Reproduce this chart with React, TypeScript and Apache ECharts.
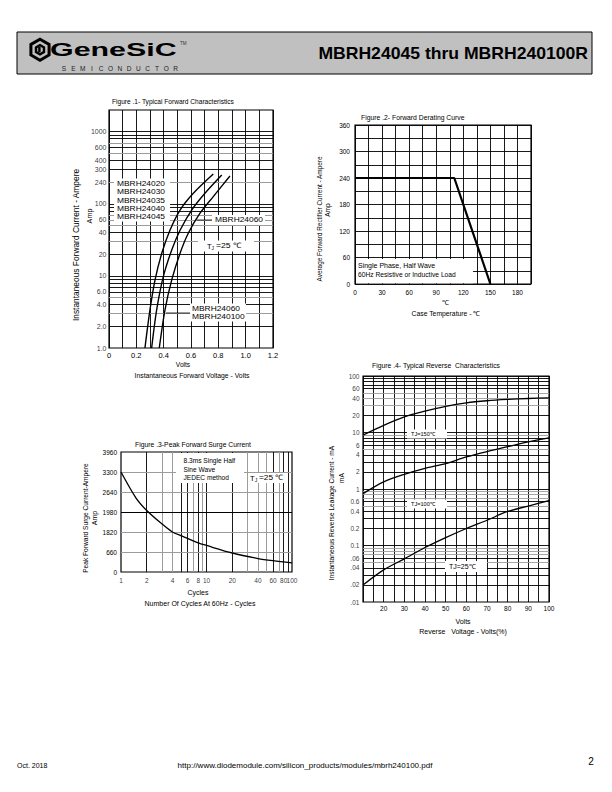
import React, { useEffect, useRef } from "react";
import * as echarts from "echarts";

const FONT = "'Liberation Sans', Arial, Helvetica, sans-serif";

// ---------- Figure 1: Typical Forward Characteristics ----------
const fig1CurveAVolts = [0.263, 0.3, 0.337, 0.386, 0.446, 0.52, 0.617, 0.763];
const fig1CurveAAmps = [1.0, 3.4, 8.8, 20.6, 43, 82, 140, 259];
const fig1CurveBVolts = [0.312, 0.349, 0.397, 0.459, 0.52, 0.605, 0.702, 0.825];
const fig1CurveBAmps = [1.0, 3.4, 9.7, 22.9, 43, 82, 140, 251];
const fig1CurveCVolts = [0.368, 0.41, 0.459, 0.52, 0.58, 0.666, 0.763, 0.885];
const fig1CurveCAmps = [1.0, 3.4, 8.8, 20.6, 39, 74, 126, 243];
const fig1YTickValues = [1, 2, 4, 6, 10, 20, 40, 60, 100, 200, 300, 400, 600, 1000];
const fig1YTickLabels = ["1.0", "2.0", "4.0", "6.0", "10", "20", "40", "60", "100", "240", "300", "400", "600", "1000"];
const fig1DarkLines = [2, 4, 6, 7, 8, 9, 10, 20, 40, 80, 90, 100, 300, 400, 600, 800, 900, 1000];
const fig1GrayLines = [3, 5, 30, 50, 60, 70, 200, 500, 700];
const fig1DeviceLabelsA = ["MBRH24020", "MBRH24030", "MBRH24035", "MBRH24040", "MBRH24045"];
const fig1DeviceLabelsC = ["MBRH24060", "MBRH240100"];

// ---------- Figure 2: Forward Derating Curve ----------
const fig2Temps = [0, 110, 150];
const fig2Amps = [240, 240, 0];

// ---------- Figure 3: Peak Forward Surge Current ----------
const fig3Cycles = [1, 1.5, 2, 3, 4, 5, 6, 8, 10, 20, 40, 60, 100];
const fig3Amps = [3300, 2440, 2030, 1590, 1320, 1200, 1110, 960, 875, 627, 445, 372, 300];
const fig3XTickValues = [1, 2, 4, 6, 8, 10, 20, 40, 60, 80, 100];
const fig3XTickLabels = ["1", "2", "4", "6", "8", "10", "20", "40", "60", "80", "100"];
const fig3YTickLabels = ["0", "660", "1820", "1980", "2640", "3300", "3960"];
const fig3DarkVLines = [2, 5, 6, 8, 10, 20, 60, 80, 90];
const fig3GrayVLines = [3, 4, 7, 9, 30, 40, 50, 70];
const fig3DarkHLines = [1980];
const fig3GrayHLines = [660, 1320, 2640, 3300];

// ---------- Figure 4: Typical Reverse Characteristics ----------
const fig4Volts = [10, 20, 30, 40, 50, 60, 70, 80, 90, 100];
const fig4Tj150 = [9.0, 13.4, 18.9, 23.8, 29, 33.5, 36.5, 38.5, 40, 41];
const fig4Tj100 = [0.83, 1.34, 1.82, 2.32, 2.82, 3.7, 4.6, 5.6, 6.8, 8.0];
const fig4Tj25 = [0.02, 0.037, 0.058, 0.092, 0.138, 0.2, 0.28, 0.4, 0.5, 0.62];
const fig4YTickValues = [100, 60, 40, 20, 10, 6, 4, 2, 1, 0.6, 0.4, 0.2, 0.1, 0.06, 0.04, 0.02, 0.01];
const fig4YTickLabels = ["100", "60", "40", "20", "10", "6", "4", "2", "1", "0.6", "0.4", "0.2", "0.1", ".06", ".04", ".02", ".01"];
const fig4DarkLines = [0.02, 0.03, 0.04, 0.06, 0.1, 0.2, 0.3, 0.4, 0.6, 1, 2, 3, 4, 6, 7, 8, 10, 20, 60, 70, 80, 90, 100];
const fig4GrayLines = [0.05, 0.07, 0.08, 0.09, 0.5, 0.7, 0.8, 0.9, 5, 9, 30, 40, 50];

const zip = (xs: number[], ys: number[]) => xs.map((x, i) => [x, ys[i]]);

const hLines = (vals: number[], color: string, width: number) =>
  vals.map((v) => ({ yAxis: v, lineStyle: { color, width, type: "solid" } }));
const vLines = (vals: number[], color: string, width: number) =>
  vals.map((v) => ({ xAxis: v, lineStyle: { color, width, type: "solid" } }));

const markLineOf = (data: any[]) => ({
  silent: true,
  symbol: ["none", "none"],
  label: { show: false },
  animation: false,
  data,
});

function txt(x: number, y: number, text: string, size: number, opts: any = {}) {
  return {
    type: "text",
    x,
    y,
    z: 100,
    rotation: opts.rotation || 0,
    scaleX: opts.scaleX || 1,
    silent: true,
    style: {
      text,
      font: `${opts.bold ? "bold " : ""}${size}px ${opts.family || FONT}`,
      fill: opts.fill || "#000",
      textAlign: opts.align || "left",
      textVerticalAlign: "middle",
    },
  };
}

function box(x: number, y: number, w: number, h: number) {
  return { type: "rect", z: 90, silent: true, shape: { x, y, width: w, height: h }, style: { fill: "#fff" } };
}

function seg(x1: number, y1: number, x2: number, y2: number, w = 0.8) {
  return { type: "line", z: 95, silent: true, shape: { x1, y1, x2, y2 }, style: { stroke: "#000", lineWidth: w } };
}

function hex(cx: number, cy: number, r: number) {
  const pts: number[][] = [];
  for (let k = 0; k < 6; k++) {
    const a = ((-90 + 60 * k) * Math.PI) / 180;
    pts.push([cx + r * Math.cos(a), cy + r * Math.sin(a)]);
  }
  return pts;
}

function tickScatter(xIdx: number, yIdx: number, data: number[][], labels: string[], position: string, distance: number, size: number) {
  return {
    type: "scatter",
    xAxisIndex: xIdx,
    yAxisIndex: yIdx,
    data,
    symbolSize: 1,
    clip: false,
    silent: true,
    itemStyle: { color: "rgba(0,0,0,0)" },
    label: {
      show: true,
      position,
      distance,
      color: "#000",
      fontSize: size,
      fontFamily: FONT,
      formatter: (p: any) => labels[p.dataIndex],
    },
    emphasis: { disabled: true },
    z: 3,
  };
}

function curve(xIdx: number, yIdx: number, data: number[][], width: number, smooth: number | boolean) {
  return {
    type: "line",
    xAxisIndex: xIdx,
    yAxisIndex: yIdx,
    data,
    showSymbol: false,
    symbol: "none",
    smooth,
    silent: true,
    lineStyle: { color: "#000", width },
    z: 5,
  };
}

function buildOption(): any {
  const axisBase = {
    axisLine: { show: false },
    axisTick: { show: false },
  };
  const blackSplit = { show: true, lineStyle: { color: "#000", width: 0.9 } };
  const lblStyle = (size: number, margin: number) => ({ color: "#000", fontSize: size, fontFamily: FONT, margin });

  const grids = [
    { left: 109, top: 110, width: 164, height: 238 },
    { left: 355, top: 125, width: 176, height: 159 },
    { left: 121, top: 452, width: 171, height: 120 },
    { left: 363, top: 376, width: 186, height: 226 },
  ].map((g) => ({ ...g, show: true, borderColor: "#000", borderWidth: 1.2, backgroundColor: "transparent" }));

  const xAxis = [
    {
      gridIndex: 0, type: "value", min: 0, max: 1.2, interval: 0.1, ...axisBase,
      splitLine: blackSplit,
      axisLabel: {
        ...lblStyle(7.5, 3),
        formatter: (v: number) => {
          const t = Math.round(v * 10);
          if (t % 2 !== 0) return "";
          return t === 0 ? "0" : (t / 10).toFixed(1);
        },
      },
    },
    {
      gridIndex: 1, type: "value", min: 0, max: 195, interval: 15, ...axisBase,
      splitLine: blackSplit,
      axisLabel: {
        ...lblStyle(6.5, 5),
        showMaxLabel: false,
        formatter: (v: number) => (v % 30 === 0 && v <= 180 ? String(v) : ""),
      },
    },
    {
      gridIndex: 2, type: "log", logBase: 10, min: 1, max: 100, ...axisBase,
      splitLine: { show: false }, axisLabel: { show: false },
    },
    {
      gridIndex: 3, type: "value", min: 10, max: 100, interval: 5, ...axisBase,
      splitLine: blackSplit,
      axisLabel: {
        ...lblStyle(6.5, 3),
        formatter: (v: number) => (v % 10 === 0 && v >= 20 ? String(v) : ""),
      },
    },
  ];

  const yAxis = [
    {
      gridIndex: 0, type: "log", logBase: 10, min: 1, max: 2000, ...axisBase,
      splitLine: { show: false }, axisLabel: { show: false },
    },
    {
      gridIndex: 1, type: "value", min: 0, max: 360, interval: 30, ...axisBase,
      splitLine: blackSplit,
      axisLabel: { ...lblStyle(6.5, 5), formatter: (v: number) => (v % 60 === 0 ? String(v) : "") },
    },
    {
      gridIndex: 2, type: "value", min: 0, max: 3960, interval: 660, ...axisBase,
      splitLine: { show: false },
      axisLabel: { ...lblStyle(6.5, 4), formatter: (v: number) => fig3YTickLabels[Math.round(v / 660)] ?? "" },
    },
    {
      gridIndex: 3, type: "log", logBase: 10, min: 0.01, max: 100, ...axisBase,
      splitLine: { show: false }, axisLabel: { show: false },
    },
  ];

  const series: any[] = [
    // Figure 1
    {
      ...tickScatter(0, 0, fig1YTickValues.map((v) => [0, v]), fig1YTickLabels, "left", 2, 7),
      markLine: markLineOf([
        ...hLines(fig1GrayLines, "#9c9c9c", 1),
        ...hLines(fig1DarkLines, "#000", 0.9),
      ]),
    },
    curve(0, 0, zip(fig1CurveAVolts, fig1CurveAAmps), 1.4, 0.3),
    curve(0, 0, zip(fig1CurveBVolts, fig1CurveBAmps), 1.4, 0.3),
    curve(0, 0, zip(fig1CurveCVolts, fig1CurveCAmps), 1.4, 0.3),
    // Figure 2
    curve(1, 1, zip(fig2Temps, fig2Amps), 2.2, false),
    // Figure 3
    {
      ...tickScatter(2, 2, fig3XTickValues.map((v) => [v, 0]), fig3XTickLabels, "bottom", 4, 6.5),
      markLine: markLineOf([
        ...vLines(fig3GrayVLines, "#9c9c9c", 1),
        ...vLines(fig3DarkVLines, "#000", 0.9),
        ...hLines(fig3GrayHLines, "#9c9c9c", 1.2),
        ...hLines(fig3DarkHLines, "#000", 1),
      ]),
    },
    curve(2, 2, zip(fig3Cycles, fig3Amps), 1.3, 0.3),
    // Figure 4
    {
      ...tickScatter(3, 3, fig4YTickValues.map((v) => [10, v]), fig4YTickLabels, "left", 3, 6.5),
      markLine: markLineOf([
        ...hLines(fig4GrayLines, "#9c9c9c", 0.9),
        ...hLines(fig4DarkLines, "#000", 0.9),
      ]),
    },
    curve(3, 3, zip(fig4Volts, fig4Tj150), 1.3, 0.3),
    curve(3, 3, zip(fig4Volts, fig4Tj100), 1.3, 0.3),
    curve(3, 3, zip(fig4Volts, fig4Tj25), 1.3, 0.3),
  ];

  const graphic: any[] = [];
  // ----- header -----
  graphic.push({
    type: "rect", z: 80, silent: true,
    shape: { x: 17, y: 32, width: 575, height: 42 },
    style: { fill: "#c0c0c0", stroke: "#000", lineWidth: 1 },
  });
  graphic.push({ type: "polygon", z: 100, silent: true, shape: { points: hex(40, 49.7, 10.5) }, style: { fill: "none", stroke: "#000", lineWidth: 3 } });
  graphic.push({ type: "polygon", z: 100, silent: true, shape: { points: hex(40, 49.7, 6) }, style: { fill: "#000" } });
  graphic.push({ type: "polygon", z: 101, silent: true, shape: { points: hex(40, 49.7, 3.2) }, style: { fill: "#c0c0c0" } });
  graphic.push({ type: "rect", z: 102, silent: true, shape: { x: 38.2, y: 47, width: 2.4, height: 5.4 }, style: { fill: "#000" } });
  graphic.push(txt(50, 49.5, "GeneSiC", 19, { bold: true, scaleX: 1.6 }));
  graphic.push(txt(180, 43.5, "TM", 4.5, { fill: "#333" }));
  "SEMICONDUCTOR".split("").forEach((ch, i) => {
    graphic.push(txt(64 + i * 9.3, 68.5, ch, 6.5, { align: "center", fill: "#222" }));
  });
  graphic.push(txt(588, 53.5, "MBRH24045 thru MBRH240100R", 16, { bold: true, align: "right", scaleX: 1.1 }));

  // ----- Figure 1 texts -----
  graphic.push(txt(112, 101, "Figure .1- Typical Forward Characteristics", 6.6));
  graphic.push(txt(76, 245, "Instantaneous Forward Current - Ampere", 8.4, { rotation: Math.PI / 2, align: "center" }));
  graphic.push(txt(89, 216, "Amp", 7.2, { rotation: Math.PI / 2, align: "center" }));
  graphic.push(txt(183, 364, "Volts", 6.6, { align: "center" }));
  graphic.push(txt(192, 375, "Instantaneous Forward Voltage - Volts", 6.8, { align: "center" }));
  graphic.push(box(114, 178.5, 56, 43));
  [183.3, 191.7, 201, 208.3, 216.7].forEach((y, i) => {
    graphic.push(txt(117, y, fig1DeviceLabelsA[i], 7, { scaleX: 1.2 }));
  });
  graphic.push(box(212, 215, 53, 10));
  graphic.push(seg(197, 220, 212, 220));
  graphic.push(txt(215, 220, "MBRH24060", 7, { scaleX: 1.2 }));
  graphic.push(box(190, 303.5, 56, 18));
  graphic.push(seg(166, 313, 190, 313));
  graphic.push(txt(192, 308.5, fig1DeviceLabelsC[0], 7, { scaleX: 1.2 }));
  graphic.push(txt(192, 317, fig1DeviceLabelsC[1], 7, { scaleX: 1.2 }));
  graphic.push(box(198, 240.5, 56, 11));
  graphic.push(txt(207, 246, "T", 7.5));
  graphic.push(txt(211.6, 248.5, "J", 4.8));
  graphic.push(txt(216, 246, "=25 \u2103", 7.5, { scaleX: 1.15 }));

  // ----- Figure 2 texts -----
  graphic.push(txt(361, 117.3, "Figure .2- Forward Derating Curve", 6.8));
  graphic.push(txt(319, 219, "Average Forward Rectifier Current - Ampere", 6.4, { rotation: Math.PI / 2, align: "center" }));
  graphic.push(txt(327.5, 210, "Amp", 6.6, { rotation: Math.PI / 2, align: "center" }));
  graphic.push(txt(445, 302.5, "\u2103", 7, { align: "center" }));
  graphic.push(txt(446, 313.5, "Case Temperature - \u2103", 6.8, { align: "center" }));
  graphic.push(box(356, 259, 117, 24.3));
  graphic.push(txt(358, 265.7, "Single Phase, Half Wave", 7));
  graphic.push(txt(358, 274.3, "60Hz Resistive or Inductive Load", 6.7));

  // ----- Figure 3 texts -----
  graphic.push(txt(193, 444, "Figure .3-Peak Forward Surge Current", 6.8, { align: "center" }));
  graphic.push(txt(85, 518, "Peak Forward Surge Current-Ampere", 6.6, { rotation: Math.PI / 2, align: "center" }));
  graphic.push(txt(94.5, 518, "Amp", 7, { rotation: Math.PI / 2, align: "center" }));
  graphic.push(txt(198, 592.5, "Cycles", 7, { align: "center" }));
  graphic.push(txt(200, 603.5, "Number Of Cycles At 60Hz - Cycles", 7, { align: "center" }));
  graphic.push(box(176, 453, 68, 30));
  graphic.push(txt(183.5, 460, "8.3ms Single Half", 6.6));
  graphic.push(txt(183.5, 469, "Sine Wave", 6.6));
  graphic.push(txt(183.5, 477.8, "JEDEC method", 6.6));
  graphic.push(box(248, 473, 37, 10));
  graphic.push(txt(250, 478, "T", 7.5));
  graphic.push(txt(254.8, 479.5, "J", 5));
  graphic.push(txt(259, 478, "=25 \u2103", 7.5, { scaleX: 1.1 }));

  // ----- Figure 4 texts -----
  graphic.push(txt(436, 365, "Figure .4- Typical Reverse  Characteristics", 6.8, { align: "center" }));
  graphic.push(txt(331, 513, "Instantaneous Reverse Leakage Current - mA", 6.6, { rotation: Math.PI / 2, align: "center" }));
  graphic.push(txt(341, 478, "mA", 6.6, { rotation: Math.PI / 2, align: "center" }));
  graphic.push(txt(463, 621.7, "Volts", 7, { align: "center" }));
  graphic.push(txt(463, 631, "Reverse   Voltage - Volts(%)", 7, { align: "center" }));
  graphic.push(box(407, 429.5, 40, 9));
  graphic.push(txt(411, 434, "TJ=150\u2103", 5.6));
  graphic.push(box(407, 499.5, 40, 9));
  graphic.push(txt(411, 504, "TJ=100\u2103", 5.6));
  graphic.push(box(445, 561, 42, 11));
  graphic.push(txt(449, 566.5, "TJ=25\u2103", 7));

  // ----- footer -----
  graphic.push(txt(17, 765, "Oct. 2018", 7));
  graphic.push(txt(305, 765, "http://www.diodemodule.com/silicon_products/modules/mbrh240100.pdf", 8, { align: "center" }));
  graphic.push(txt(591, 761, "2", 10, { align: "center" }));

  return {
    animation: false,
    backgroundColor: "#fff",
    grid: grids,
    xAxis,
    yAxis,
    series,
    graphic: { elements: graphic },
  };
}

export default function App() {
  const ref = useRef<HTMLDivElement>(null);
  useEffect(() => {
    if (!ref.current) return;
    const chart = echarts.init(ref.current, null, { renderer: "svg", width: 612, height: 792 });
    chart.setOption(buildOption());
    return () => chart.dispose();
  }, []);
  return (
    <div
      ref={ref}
      style={{ position: "absolute", left: 0, top: 0, width: 612, height: 792, background: "#fff" }}
    />
  );
}
